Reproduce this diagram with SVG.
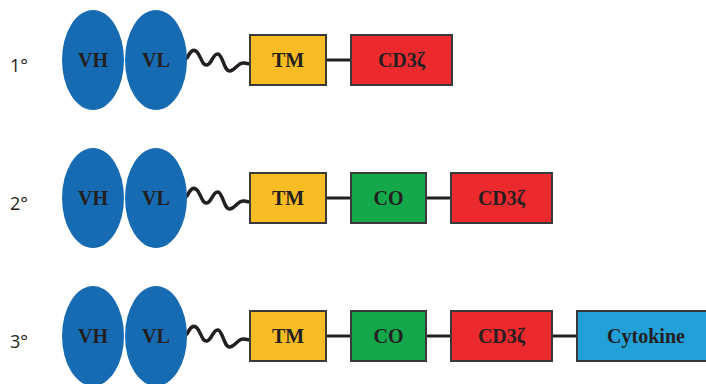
<svg xmlns="http://www.w3.org/2000/svg" width="706" height="384" viewBox="0 0 706 384">
  <defs>
    <style>
      .dom { fill: #176bb3; }
      .box { stroke: #3a3a3a; stroke-width: 2; }
      .tm { fill: #f9bc22; }
      .co { fill: #14a84b; }
      .cd3 { fill: #ec2a2e; }
      .cyt { fill: #22a0d8; }
      .lbl { font-family: "Liberation Serif", "Times New Roman", serif; font-weight: bold; font-size: 20px; fill: #231f20; text-anchor: middle; }
      .gen { font-family: "Open Sans", "Liberation Sans", sans-serif; font-size: 18px; fill: #231f20; }
      .link { stroke: #231f20; stroke-width: 3; fill: none; }
      .wave { stroke: #231f20; stroke-width: 3.5; fill: none; stroke-linecap: round; }
    </style>
    <path id="hinge" d="M187,58 C190,52 193,48 197,52 C201,56 202,66 207,65 C212,64 213,53 218,54 C223,55 224,72 230,71 C236,70 238,62 244,63 L250,64"/>
  </defs>
  <rect width="706" height="384" fill="#ffffff"/>

  <!-- generation labels -->
  <text class="gen" x="10" y="72">1°</text>
  <text class="gen" x="10" y="210">2°</text>
  <text class="gen" x="10" y="348">3°</text>

  <!-- connectors -->
  <g id="connectors">
    <use href="#hinge" class="wave"/>
    <use href="#hinge" class="wave" transform="translate(0,138)"/>
    <use href="#hinge" class="wave" transform="translate(0,276)"/>
    <line class="link" x1="326" y1="60" x2="351" y2="60"/>
    <line class="link" x1="326" y1="198" x2="351" y2="198"/>
    <line class="link" x1="426" y1="198" x2="451" y2="198"/>
    <line class="link" x1="326" y1="336" x2="351" y2="336"/>
    <line class="link" x1="426" y1="336" x2="451" y2="336"/>
    <line class="link" x1="552" y1="336" x2="577" y2="336"/>
  </g>

  <!-- first generation -->
  <g id="vh1"><ellipse class="dom" cx="93" cy="60" rx="31" ry="50"/><text class="lbl" x="93" y="67">VH</text></g>
  <g id="vl1"><ellipse class="dom" cx="156" cy="60" rx="31" ry="50"/><text class="lbl" x="156" y="67">VL</text></g>
  <g id="tm1"><rect class="box tm" x="250" y="35" width="76" height="50"/><text class="lbl" x="288" y="67">TM</text></g>
  <g id="cd3z1"><rect class="box cd3" x="351" y="35" width="101" height="50"/><text class="lbl" x="401.5" y="67">CD3ζ</text></g>

  <!-- second generation -->
  <g id="vh2"><ellipse class="dom" cx="93" cy="198" rx="31" ry="50"/><text class="lbl" x="93" y="205">VH</text></g>
  <g id="vl2"><ellipse class="dom" cx="156" cy="198" rx="31" ry="50"/><text class="lbl" x="156" y="205">VL</text></g>
  <g id="tm2"><rect class="box tm" x="250" y="173" width="76" height="50"/><text class="lbl" x="288" y="205">TM</text></g>
  <g id="co2"><rect class="box co" x="351" y="173" width="75" height="50"/><text class="lbl" x="388.5" y="205">CO</text></g>
  <g id="cd3z2"><rect class="box cd3" x="451" y="173" width="101" height="50"/><text class="lbl" x="501.5" y="205">CD3ζ</text></g>

  <!-- third generation -->
  <g id="vh3"><ellipse class="dom" cx="93" cy="336" rx="31" ry="50"/><text class="lbl" x="93" y="343">VH</text></g>
  <g id="vl3"><ellipse class="dom" cx="156" cy="336" rx="31" ry="50"/><text class="lbl" x="156" y="343">VL</text></g>
  <g id="tm3"><rect class="box tm" x="250" y="311" width="76" height="50"/><text class="lbl" x="288" y="343">TM</text></g>
  <g id="co3"><rect class="box co" x="351" y="311" width="75" height="50"/><text class="lbl" x="388.5" y="343">CO</text></g>
  <g id="cd3z3"><rect class="box cd3" x="451" y="311" width="101" height="50"/><text class="lbl" x="501.5" y="343">CD3ζ</text></g>
  <g id="cytokine3"><rect class="box cyt" x="577" y="311" width="131" height="50"/><text class="lbl" x="646" y="343">Cytokine</text></g>
</svg>
